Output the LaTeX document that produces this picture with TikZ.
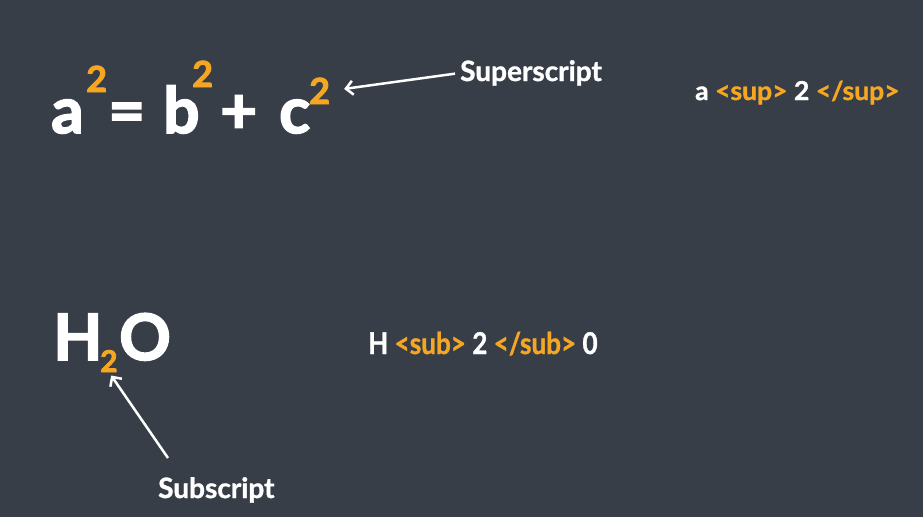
\documentclass[tikz,border=0pt]{standalone}
\usepackage{fontspec}
\usepackage{graphicx}
\setmainfont{Lato}[BoldFeatures={FakeBold=1.2}]
\newfontfamily\heavyfont{Lato}[BoldFeatures={FakeBold=2.5}]
\usetikzlibrary{arrows.meta}
\definecolor{slate}{HTML}{373E48}
\definecolor{amber}{HTML}{F5A623}
\newcommand{\narrowtext}[2]{\scalebox{#1}[1]{#2}}

\begin{document}
\begin{tikzpicture}[x=1pt, y=-1pt,
    every node/.style={inner sep=0pt, text=white, font=\bfseries},
    big/.style={font=\fontsize{64}{64}\heavyfont\bfseries, anchor=base west},
    supnum/.style={font=\fontsize{36}{36}\heavyfont\bfseries, text=amber, anchor=base west},
    label/.style={font=\fontsize{28}{28}\selectfont\bfseries, anchor=base west},
    pointer/.style={draw=white, line width=2.5pt, -{Straight Barb[length=7pt, width=14pt]}}]

    % Background
    \fill[slate] (0,0) rectangle (923,517);
    \useasboundingbox (0,0) rectangle (923,517);

    % Pythagoras with superscripts
    \node[big] (a) at (51,133) {a};
    \node[supnum] (asup) at (86,92) {2};
    \node[big] (eq) at (108,133) {=};
    \node[big] (b) at (163,133) {b};
    \node[supnum] (bsup) at (192,87) {2};
    \node[big] (plus) at (220,133) {+};
    \node[big] (c) at (279,133) {c};
    \node[supnum] (csup) at (309,104) {2};

    \node[label] (suplabel) at (460,81) {Superscript};
    \draw[pointer, shorten <=5pt, shorten >=14pt] (suplabel.west) -- (csup.east);

    % HTML code for superscript
    \node[label, font=\fontsize{26}{26}\selectfont\bfseries] (supcode) at (695,100)
        {\narrowtext{1.02}{a \textcolor{amber}{<sup>} 2 \textcolor{amber}{</sup>}}};

    % Water with subscript
    \node[big] (h) at (53,360) {H};
    \node[supnum, font=\fontsize{30}{30}\heavyfont\bfseries] (hsub) at (100,372) {2};
    \node[big] (o) at (119,360) {O};

    \node[label] (sublabel) at (158,498) {Subscript};
    \coordinate (subtail) at (168,458);
    \draw[pointer, shorten >=4pt] (subtail) -- (hsub.south);

    % HTML code for subscript
    \node[label, font=\fontsize{30}{30}\selectfont\bfseries] (subcode) at (368,354)
        {\narrowtext{0.87}{H \textcolor{amber}{<sub>} 2 \textcolor{amber}{</sub>} 0}};

\end{tikzpicture}
\end{document}
